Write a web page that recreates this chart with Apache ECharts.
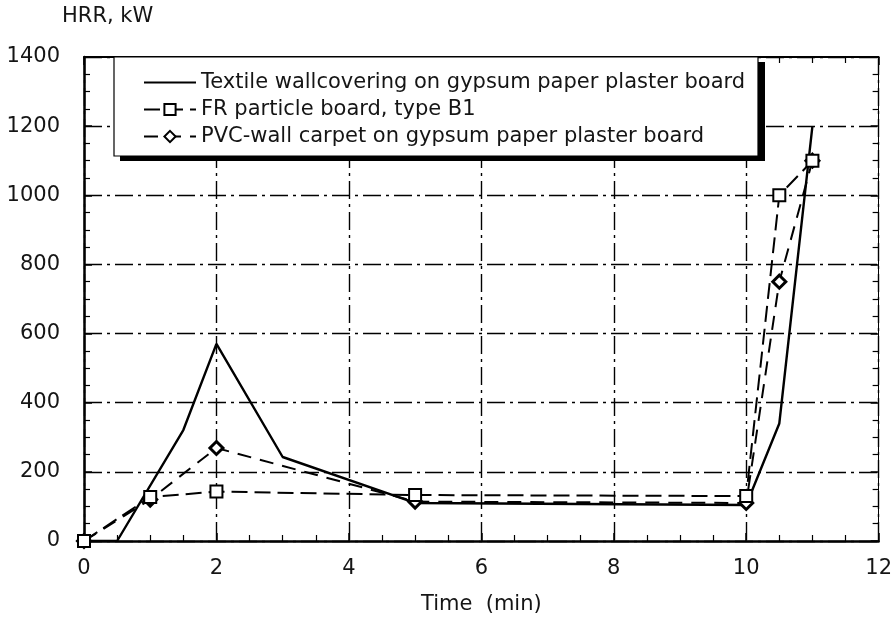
<!DOCTYPE html>
<html><head><meta charset="utf-8">
<script src="https://cdn.jsdelivr.net/npm/echarts@6/dist/echarts.min.js"></script>
<style>html,body{margin:0;padding:0;background:#fff}#c{width:895px;height:627px}</style>
</head><body><div id="c"></div>
<script>
// ---- data ----
const seriesNames = [
  'Textile wallcovering on gypsum paper plaster board',
  'FR particle board, type B1',
  'PVC-wall carpet on gypsum paper plaster board'
];
const textileX = [0, 0.5, 1.5, 2, 3, 5, 10, 10.5, 11];
const textileY = [0, 0, 321, 570, 243, 110, 104, 340, 1200];
const frX = [0, 1, 2, 5, 10, 10.5, 11];
const frY = [0, 127, 143, 133, 130, 1000, 1100];
const pvcX = [0, 1, 2, 5, 10, 10.5, 11];
const pvcY = [0, 120, 269, 114, 110, 750, 1100];
const xRange = [0, 12], xStep = 2;
const yRange = [0, 1400], yStep = 200;
const xTitle = 'Time  (min)';
const yTitle = 'HRR, kW';

// ---- chart ----
const FONT = 'DejaVu Sans';
const pairs = (xs, ys) => xs.map((x, i) => [x, ys[i]]);
const gridLine = { show: true, lineStyle: { color: '#000', width: 1.4, type: [18, 5, 3, 5] } };
const tick = { show: true, inside: true, length: 8, lineStyle: { color: '#000', width: 1.5 } };
const minor = { show: true, splitNumber: 4, length: 6, lineStyle: { color: '#000', width: 1.2 } };
const lbl = { fontFamily: FONT, fontSize: 21, color: '#151515' };
const plain = v => String(v);

const chart = echarts.init(document.getElementById('c'), null, { renderer: 'canvas' });
chart.setOption({
  animation: false,
  backgroundColor: '#fff',
  grid: { left: 84, right: 13, top: 57, bottom: 86, containLabel: false },
  xAxis: [
    { type: 'value', min: xRange[0], max: xRange[1], interval: xStep, position: 'bottom',
      axisLine: { show: true, onZero: false, lineStyle: { color: '#000', width: 2.5 } },
      axisTick: tick, minorTick: minor, splitLine: gridLine,
      axisLabel: Object.assign({ margin: 17, showMinLabel: true, showMaxLabel: true, formatter: plain }, lbl),
      name: xTitle, nameLocation: 'middle', nameGap: 53, nameTextStyle: lbl },
    { type: 'value', min: xRange[0], max: xRange[1], interval: xStep, position: 'top',
      axisLine: { show: true, onZero: false, lineStyle: { color: '#000', width: 2 } },
      axisTick: tick, minorTick: minor, splitLine: { show: false }, axisLabel: { show: false } }
  ],
  yAxis: [
    { type: 'value', min: yRange[0], max: yRange[1], interval: yStep, position: 'left',
      axisLine: { show: true, onZero: false, lineStyle: { color: '#000', width: 2.5 } },
      axisTick: tick, minorTick: minor, splitLine: gridLine,
      axisLabel: Object.assign({ margin: 24, showMinLabel: true, showMaxLabel: true, formatter: plain }, lbl) },
    { type: 'value', min: yRange[0], max: yRange[1], interval: yStep, position: 'right',
      axisLine: { show: true, onZero: false, lineStyle: { color: '#000', width: 1 } },
      axisTick: tick, minorTick: minor, splitLine: { show: false }, axisLabel: { show: false } }
  ],
  legend: {
    orient: 'vertical', left: 143, top: 72, padding: 0, itemGap: 6,
    itemWidth: 52, itemHeight: 14, z: 10,
    textStyle: { fontFamily: FONT, fontSize: 21, color: '#151515' },
    data: [
      { name: seriesNames[0], icon: 'path://M0,0 L52,0 L52,2.2 L0,2.2 Z' },
      { name: seriesNames[1] },
      { name: seriesNames[2] }
    ]
  },
  graphic: { elements: [
    { type: 'rect', z: 5, shape: { x: 120, y: 62, width: 645, height: 99 }, style: { fill: '#000' } },
    { type: 'rect', z: 6, shape: { x: 114, y: 57, width: 644, height: 99 }, style: { fill: '#fff', stroke: '#000', lineWidth: 1.2 } },
    { type: 'text', z: 6, left: 62, top: 6, style: { text: yTitle, font: '21px "DejaVu Sans"', fill: '#151515' } }
  ]},
  series: [
    { name: seriesNames[0], type: 'line', data: pairs(textileX, textileY), symbol: 'none',
      lineStyle: { color: '#000', width: 2.4, type: 'solid' }, itemStyle: { color: '#000' },
      emphasis: { disabled: true }, z: 3 },
    { name: seriesNames[2], type: 'line', data: pairs(pvcX, pvcY), symbol: 'diamond', symbolSize: 13,
      lineStyle: { color: '#000', width: 2, type: [14, 9] },
      itemStyle: { color: '#fff', borderColor: '#000', borderWidth: 3 },
      emphasis: { disabled: true }, z: 3 },
    { name: seriesNames[1], type: 'line', data: pairs(frX, frY), symbol: 'rect', symbolSize: 12,
      lineStyle: { color: '#000', width: 2, type: [16, 7] },
      itemStyle: { color: '#fff', borderColor: '#000', borderWidth: 2 },
      emphasis: { disabled: true }, z: 4 }
  ]
});
</script></body></html>
